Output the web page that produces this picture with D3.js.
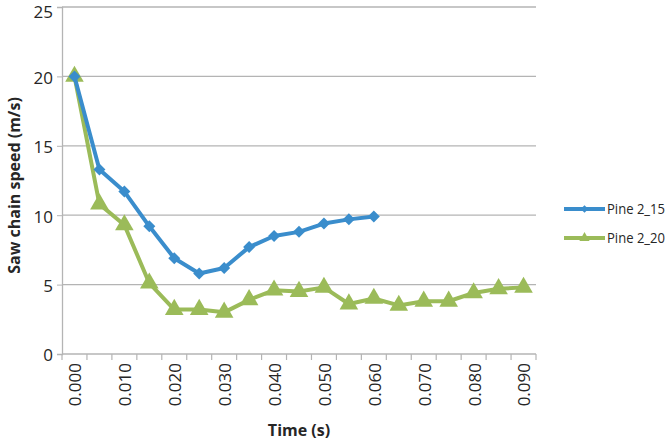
<!DOCTYPE html>
<html><head><meta charset="utf-8">
<script src="https://cdn.jsdelivr.net/npm/d3@7"></script>
<style>body{margin:0;background:#fff}svg{display:block}</style>
</head><body>
<svg id="c" width="671" height="440"></svg>
<script>
const categories = ["0.000","0.005","0.010","0.015","0.020","0.025","0.030","0.035","0.040","0.045","0.050","0.055","0.060","0.065","0.070","0.075","0.080","0.085","0.090"];
const tickLabels = ["0.000","0.010","0.020","0.030","0.040","0.050","0.060","0.070","0.080","0.090"];
const pine215 = [20,13.3,11.7,9.2,6.9,5.8,6.2,7.7,8.5,8.8,9.4,9.7,9.9];
const pine220 = [20,10.8,9.3,5.1,3.2,3.2,3.0,3.9,4.6,4.5,4.8,3.6,4.0,3.5,3.8,3.8,4.4,4.7,4.8];
const yTicks = [0,5,10,15,20,25];
const seriesNames = ["Pine 2_15","Pine 2_20"];
const colors = ["#3a8dcc","#9bbb59"];

const svg = d3.select("#c");
const L=62,R=536,T=7,B=354;
const font = "'Open Sans', sans-serif";
const txt = "#262626";
const x = d3.scaleBand().domain(categories).range([L,R]);
const y = d3.scaleLinear().domain([0,25]).range([B,T]);

// gridlines
svg.append("g").selectAll("line").data(yTicks.filter(d=>d>0)).join("line")
  .attr("x1",L).attr("x2",R).attr("y1",d=>y(d)).attr("y2",d=>y(d))
  .attr("stroke","#b4b4b4").attr("stroke-width",1.3);

// y axis
const ya = svg.append("g").attr("transform",`translate(${L},0)`)
  .call(d3.axisLeft(y).tickValues(yTicks).tickSize(5).tickPadding(4));
ya.select(".domain").attr("stroke","#b4b4b4").attr("stroke-width",1.3);
ya.selectAll(".tick line").attr("stroke","#b4b4b4");
ya.selectAll("text").attr("font-family",font).attr("font-size",17).attr("fill",txt)
  .attr("dy",d=>d===25?"0.62em":"0.4em");

// x axis: ticks at category boundaries
const xa = svg.append("g").attr("transform",`translate(0,${B})`);
xa.append("line").attr("x1",L).attr("x2",R).attr("stroke","#b4b4b4").attr("stroke-width",1.3);
const bounds = categories.map(c=>x(c)).concat([R]);
xa.selectAll("line.t").data(bounds).join("line").attr("class","t")
  .attr("x1",d=>d).attr("x2",d=>d).attr("y1",0).attr("y2",6).attr("stroke","#b4b4b4").attr("stroke-width",1.2);
xa.selectAll("text").data(tickLabels).join("text")
  .attr("transform",d=>`translate(${x(d)+x.bandwidth()/2+1},9) rotate(-90)`)
  .attr("text-anchor","end").attr("dy","0.35em")
  .attr("font-family",font).attr("font-size",17).attr("fill",txt).text(d=>d);

// titles
svg.append("text").attr("transform",`translate(14,${(T+B)/2+5}) rotate(-90)`)
  .attr("text-anchor","middle").attr("dy","0.35em").attr("font-family",font)
  .attr("font-weight","bold").attr("font-size",16).attr("fill",txt).text("Saw chain speed (m/s)");
svg.append("text").attr("x",299).attr("y",430).attr("text-anchor","middle").attr("dy","0.35em")
  .attr("font-family",font).attr("font-weight","bold").attr("font-size",16).attr("fill",txt).text("Time (s)");

const cx = i => x(categories[i]) + x.bandwidth()/2;
const line = d3.line().x((d,i)=>cx(i)).y(d=>y(d));
const tri = d3.symbol().type(d3.symbolTriangle).size(150);
const dia = d3.symbol().type(d3.symbolSquare).size(72);

function drawSeries(vals, col, sym, rot){
  svg.append("path").datum(vals).attr("d",line).attr("fill","none")
    .attr("stroke",col).attr("stroke-width",4).attr("stroke-linejoin","round");
  svg.append("g").selectAll("path").data(vals).join("path")
    .attr("d",sym).attr("fill",col)
    .attr("transform",(d,i)=>`translate(${cx(i)},${y(d)}) rotate(${rot})`);
}
drawSeries(pine220, colors[1], tri, 0);
drawSeries(pine215, colors[0], dia, 45);

// legend
const lg = svg.append("g");
seriesNames.forEach((n,i)=>{
  const yy = 209 + i*29;
  lg.append("line").attr("x1",564).attr("x2",605).attr("y1",yy).attr("y2",yy)
    .attr("stroke",colors[i]).attr("stroke-width",4);
  lg.append("path").attr("d", i===0 ? d3.symbol().type(d3.symbolSquare).size(30)() : d3.symbol().type(d3.symbolTriangle).size(45)())
    .attr("fill",colors[i]).attr("transform",`translate(584.5,${yy}) rotate(${i===0?45:0})`);
  lg.append("text").attr("x",607).attr("y",yy).attr("dy","0.35em")
    .attr("font-family",font).attr("font-size",14).attr("fill",txt)
    .attr("textLength",58).attr("lengthAdjust","spacingAndGlyphs").text(n);
});
</script>
</body></html>
